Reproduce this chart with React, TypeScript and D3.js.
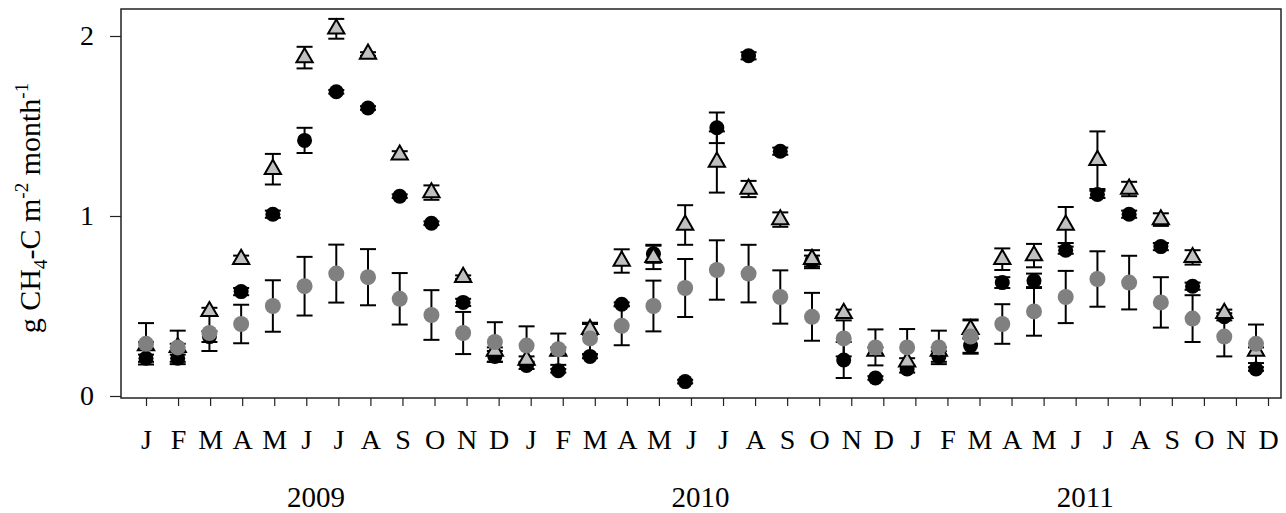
import React, { useRef, useEffect } from 'react';
import * as d3 from 'd3';

const months = ['J', 'F', 'M', 'A', 'M', 'J', 'J', 'A', 'S', 'O', 'N', 'D',
  'J', 'F', 'M', 'A', 'M', 'J', 'J', 'A', 'S', 'O', 'N', 'D',
  'J', 'F', 'M', 'A', 'M', 'J', 'J', 'A', 'S', 'O', 'N', 'D'];
const years = ['2009', '2010', '2011'];
const yTicks = [0, 1, 2];

// black circles
const blackVals = [0.21, 0.21, 0.33, 0.58, 1.01, 1.42, 1.69, 1.60, 1.11, 0.96, 0.52, 0.22,
  0.17, 0.14, 0.22, 0.51, 0.79, 0.08, 1.49, 1.89, 1.36, 0.75, 0.20, 0.10,
  0.15, 0.22, 0.28, 0.63, 0.64, 0.81, 1.12, 1.01, 0.83, 0.61, 0.44, 0.15];
const blackErr = [0.02, 0.02, 0.03, 0.02, 0.02, 0.07, 0.01, 0.01, 0.01, 0.01, 0.02, 0.03,
  0.02, 0.01, 0.01, 0.01, 0.05, 0.01, 0.085, 0.02, 0.02, 0.03, 0.1, 0.01,
  0.02, 0.03, 0.04, 0.03, 0.04, 0.02, 0.02, 0.02, 0.02, 0.02, 0.02, 0.01];

// light grey triangles
const triVals = [0.28, 0.27, 0.47, 0.76, 1.26, 1.88, 2.04, 1.90, 1.34, 1.13, 0.66, 0.25,
  0.20, 0.25, 0.37, 0.75, 0.77, 0.95, 1.30, 1.15, 0.98, 0.76, 0.46, 0.25,
  0.19, 0.25, 0.37, 0.76, 0.78, 0.95, 1.31, 1.15, 0.98, 0.77, 0.46, 0.25];
const triErr = [0.02, 0.02, 0.02, 0.02, 0.085, 0.06, 0.055, 0.01, 0.02, 0.04, 0.01, 0.02,
  0.02, 0.02, 0.03, 0.065, 0.065, 0.11, 0.17, 0.045, 0.04, 0.05, 0.02, 0.02,
  0.02, 0.02, 0.05, 0.06, 0.065, 0.1, 0.16, 0.04, 0.035, 0.04, 0.02, 0.02];

// dark grey circles
const grayVals = [0.29, 0.27, 0.35, 0.40, 0.50, 0.61, 0.68, 0.66, 0.54, 0.45, 0.35, 0.30,
  0.28, 0.26, 0.32, 0.39, 0.50, 0.60, 0.70, 0.68, 0.55, 0.44, 0.32, 0.27,
  0.27, 0.27, 0.33, 0.40, 0.47, 0.55, 0.65, 0.63, 0.52, 0.43, 0.33, 0.29];
const grayErr = [0.115, 0.093, 0.10, 0.107, 0.143, 0.163, 0.161, 0.156, 0.143, 0.138, 0.117, 0.11,
  0.107, 0.087, 0.087, 0.108, 0.141, 0.161, 0.165, 0.16, 0.148, 0.133, 0.1, 0.1,
  0.102, 0.093, 0.095, 0.11, 0.135, 0.145, 0.154, 0.149, 0.14, 0.13, 0.11, 0.107];

const W = 1286;
const H = 513;

const App = () => {
  const svgRef = useRef<SVGSVGElement>(null);

  useEffect(() => {
    const svg = d3.select(svgRef.current);
    svg.selectAll('*').remove();

    const frame = { left: 121, top: 9, right: 1281, bottom: 398 };
    const font = 'Liberation Serif, Times New Roman, serif';

    const idx = d3.range(months.length);
    const x = d3.scaleLinear().domain([0, 35]).range([146, 1256]);
    const xTick = d3.scaleLinear().domain([0, 35]).range([146, 1268]);
    const y = d3.scaleLinear().domain([0, 2]).range([396, 36]);

    svg.append('rect')
      .attr('x', frame.left).attr('y', frame.top)
      .attr('width', frame.right - frame.left)
      .attr('height', frame.bottom - frame.top)
      .attr('fill', 'none').attr('stroke', '#222').attr('stroke-width', 1.5);

    // y axis
    const yAxis = svg.append('g')
      .attr('transform', `translate(${frame.left},0)`)
      .call(d3.axisLeft(y).tickValues(yTicks).tickFormat(d3.format('d')).tickSize(11).tickPadding(16));
    yAxis.select('.domain').remove();
    yAxis.selectAll('line').attr('stroke', '#222').attr('stroke-width', 1.2);
    yAxis.selectAll('text').attr('font-family', font).attr('font-size', 28).attr('fill', '#000');

    // x axis
    const xAxis = svg.append('g')
      .attr('transform', `translate(0,${frame.bottom})`)
      .call(d3.axisBottom(xTick).tickValues(idx).tickFormat((d) => months[d as number]).tickSize(8).tickPadding(23));
    xAxis.select('.domain').remove();
    xAxis.selectAll('line').attr('stroke', '#222').attr('stroke-width', 1.2);
    xAxis.selectAll('text').attr('font-family', font).attr('font-size', 28).attr('fill', '#000');

    svg.append('g').selectAll('text')
      .data(years)
      .join('text')
      .attr('x', (d, i) => xTick(i * 12 + 5.3))
      .attr('y', 507)
      .attr('text-anchor', 'middle')
      .attr('font-family', font).attr('font-size', 29)
      .text(d => d);

    // y title
    const title = svg.append('text')
      .attr('transform', 'translate(40,208) rotate(-90)')
      .attr('text-anchor', 'middle')
      .attr('font-family', font).attr('font-size', 30);
    title.append('tspan').text('g CH');
    title.append('tspan').attr('font-size', 19).attr('dy', 7).text('4');
    title.append('tspan').attr('dy', -7).text('-C m');
    title.append('tspan').attr('font-size', 19).attr('dy', -12).text('-2');
    title.append('tspan').attr('dy', 12).text(' month');
    title.append('tspan').attr('font-size', 19).attr('dy', -12).text('-1');

    const cap = 8;
    const drawErr = (vals: number[], errs: number[]) => {
      const g = svg.append('g').attr('stroke', '#000').attr('stroke-width', 2).attr('fill', 'none');
      idx.forEach(i => {
        const lo = y(vals[i] - errs[i]);
        const hi = y(vals[i] + errs[i]);
        const cx = x(i);
        g.append('line').attr('x1', cx).attr('x2', cx).attr('y1', lo).attr('y2', hi);
        g.append('line').attr('x1', cx - cap).attr('x2', cx + cap).attr('y1', lo).attr('y2', lo);
        g.append('line').attr('x1', cx - cap).attr('x2', cx + cap).attr('y1', hi).attr('y2', hi);
      });
    };

    drawErr(blackVals, blackErr);
    drawErr(triVals, triErr);
    drawErr(grayVals, grayErr);

    svg.append('g').selectAll('circle')
      .data(idx)
      .join('circle')
      .attr('cx', i => x(i))
      .attr('cy', i => y(blackVals[i]))
      .attr('r', 7.5)
      .attr('fill', '#000');

    const tri = d3.symbol().type(d3.symbolTriangle).size(115);
    svg.append('g').selectAll('path')
      .data(idx)
      .join('path')
      .attr('transform', i => `translate(${x(i)},${y(triVals[i])})`)
      .attr('d', tri)
      .attr('fill', '#c0c0c0')
      .attr('stroke', '#000')
      .attr('stroke-width', 2);

    svg.append('g').selectAll('circle')
      .data(idx)
      .join('circle')
      .attr('cx', i => x(i))
      .attr('cy', i => y(grayVals[i]))
      .attr('r', 8)
      .attr('fill', '#808080');
  }, []);

  return (
    <svg ref={svgRef} width={W} height={H}
      style={{ position: 'absolute', left: 0, top: 0, background: '#fff' }} />
  );
};

export default App;
